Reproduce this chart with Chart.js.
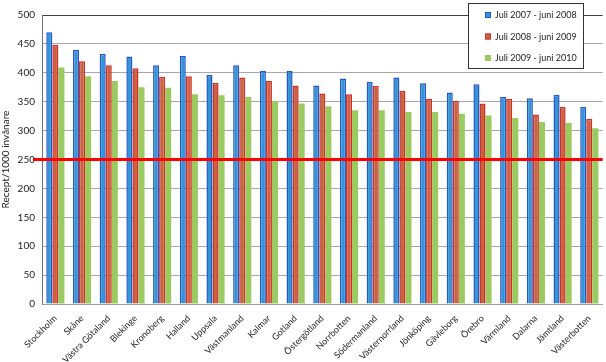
<!DOCTYPE html>
<html>
<head>
<meta charset="utf-8">
<script src="https://cdn.jsdelivr.net/npm/chart.js@4"></script>
<style>
  body { margin: 0; background: #fff; }
  #wrap { width: 606px; height: 362px; }
</style>
</head>
<body>
<div id="wrap"><canvas id="chart_canvas" width="606" height="362"></canvas></div>
<script>
const lan = ["Stockholm", "Skåne", "Västra Götaland", "Blekinge", "Kronoberg", "Halland", "Uppsala",
    "Västmanland", "Kalmar", "Gotland", "Östergötland", "Norrbotten", "Södermanland", "Västernorrland",
    "Jönköping", "Gävleborg", "Örebro", "Värmland", "Dalarna", "Jämtland", "Västerbotten"];

const period1 = [470, 440, 433, 428, 413, 429, 396, 413, 403, 403, 378, 390, 384, 392, 382, 366, 380, 358, 356, 362, 341];
const period2 = [448, 420, 413, 408, 393, 394, 383, 392, 386, 378, 364, 363, 377, 369, 355, 351, 347, 355, 328, 341, 320];
const period3 = [409, 394, 386, 375, 374, 363, 361, 358, 351, 347, 342, 335, 335, 332, 332, 329, 326, 322, 315, 313, 304];

const seriesNames = ["Juli 2007 - juni 2008", "Juli 2008 - juni 2009", "Juli 2009 - juni 2010"];
const yTicks = [0, 50, 100, 150, 200, 250, 300, 350, 400, 450, 500];
const refLevel = 250;

const ctx = document.getElementById('chart_canvas');
const fontName = 'Lato, "Open Sans", sans-serif';

// red reference line at 250
const refLine = {
    id: 'refLine',
    afterDatasetsDraw(chart) {
        const y = chart.scales.y.getPixelForValue(refLevel);
        const c = chart.ctx;
        c.save();
        c.strokeStyle = '#FF0000';
        c.lineWidth = 3;
        c.beginPath();
        c.moveTo(chart.chartArea.left - 9, y);
        c.lineTo(chart.chartArea.right, y);
        c.stroke();
        c.restore();
    }
};

// boxed legend in the top right corner
const boxLegend = {
    id: 'boxLegend',
    afterDraw(chart) {
        const c = chart.ctx;
        const x0 = 468, y0 = 3, w = 115, h = 65;
        c.save();
        c.fillStyle = '#fff';
        c.fillRect(x0, y0, w, h);
        c.strokeStyle = '#333';
        c.lineWidth = 1;
        c.strokeRect(x0 + 0.5, y0 + 0.5, w, h);
        c.font = '9px ' + fontName;
        c.textBaseline = 'middle';
        chart.data.datasets.forEach(function (ds, i) {
            const yy = 15 + i * 21.5;
            c.fillStyle = ds.backgroundColor;
            c.fillRect(485, yy - 3, 6, 6);
            if (ds.borderWidth > 0) {
                c.strokeStyle = ds.borderColor;
                c.strokeRect(485.5, yy - 2.5, 5, 5);
            }
            c.fillStyle = '#222';
            c.fillText(ds.label, 495, yy + 0.5);
        });
        c.restore();
    }
};

new Chart(ctx, {
    type: 'bar',
    data: {
        labels: lan,
        datasets: [{
                label: seriesNames[0],
                data: period1,
                backgroundColor: '#3396D2',
                borderColor: '#2656CC',
                borderWidth: 1.5
            }, {
                label: seriesNames[1],
                data: period2,
                backgroundColor: '#C9653E',
                borderColor: '#D42C2C',
                borderWidth: 1.5
            }, {
                label: seriesNames[2],
                data: period3,
                backgroundColor: '#9BCB60',
                borderColor: '#9BCB60',
                borderWidth: 0
            }]
    },
    options: {
        responsive: false,
        animation: false,
        layout: {padding: {top: 15, right: 3, left: 0, bottom: 0}},
        plugins: {
            legend: {display: false},
            tooltip: {enabled: false}
        },
        datasets: {
            bar: {categoryPercentage: 0.68, barPercentage: 1}
        },
        scales: {
            x: {
                grid: {display: false, drawTicks: false},
                border: {color: '#A0A0A0'},
                ticks: {
                    font: {family: fontName, size: 9},
                    color: '#222',
                    minRotation: 45,
                    maxRotation: 45,
                    padding: 9,
                    autoSkip: false
                },
                afterFit: function (scale) { scale.height = 58; }
            },
            y: {
                min: 0,
                max: 500,
                afterBuildTicks: function (scale) {
                    scale.ticks = yTicks.map(function (v) { return {value: v}; });
                },
                grid: {
                    drawTicks: false,
                    color: function (c) { return c.tick && c.tick.value === 500 ? '#404040' : '#A8A8A8'; },
                    lineWidth: 1
                },
                border: {color: '#707070'},
                ticks: {
                    font: {family: fontName, size: 10},
                    color: '#222',
                    padding: 7
                },
                title: {
                    display: true,
                    text: 'Recept/1000 invånare',
                    font: {family: fontName, size: 10},
                    color: '#222',
                    padding: 0
                },
                afterFit: function (scale) { scale.width = 42; }
            }
        }
    },
    plugins: [refLine, boxLegend]
});
</script>
</body>
</html>
